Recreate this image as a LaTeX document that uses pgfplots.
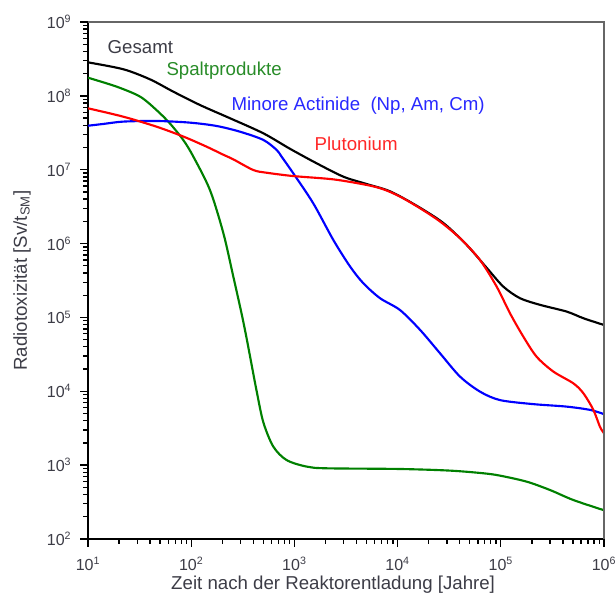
\documentclass[border=0pt]{standalone}
\usepackage{fontspec}
\setmainfont{Liberation Sans}
\usepackage{pgfplots}
\pgfplotsset{compat=1.18}
\usetikzlibrary{calc}
\definecolor{cgreen}{RGB}{0,128,0}
\definecolor{cblue}{RGB}{0,0,255}
\definecolor{cred}{RGB}{255,0,0}
\definecolor{tgreen}{RGB}{40,140,40}
\definecolor{tblue}{RGB}{40,40,255}
\definecolor{tred}{RGB}{255,40,40}
\definecolor{tgray}{RGB}{60,60,70}
\begin{document}
\begin{tikzpicture}
\begin{axis}[
  scale only axis, width=387pt, height=387.75pt,
  xmode=log, ymode=log,
  xmin=10, xmax=1e6, ymin=1e2, ymax=1e9,
  clip mode=individual,
  axis line style={black, line width=1.1pt},
  xtick pos=bottom, ytick pos=left,
  xtick align=outside, ytick align=outside,
  major tick length=6pt,
  minor tick length=3.5pt,
  every tick/.style={black, line width=1pt},
  xtick={1e1,1e2,1e3,1e4,1e5,1e6},
  ytick={1e2,1e3,1e4,1e5,1e6,1e7,1e8,1e9},
  /pgf/number format/assume math mode=true,
  log number format basis/.code 2 args={#1\textsuperscript{\pgfmathprintnumber{#2}}},
  tick label style={font=\fontsize{12}{14}\selectfont, text=tgray},
  xticklabel style={yshift=-4pt},
  yticklabel style={xshift=-3pt},
]
\coordinate (bbsw) at (rel axis cs:0,0);
\coordinate (bbne) at (rel axis cs:1,1);
\coordinate (xl) at (rel axis cs:0.475,0);
\coordinate (yl) at (rel axis cs:0,0.5);

% Gesamt
\addplot[black, line width=1.6pt, smooth] coordinates {
(10,2.84e8) (22,2.29e8) (40,1.67e8) (67,1.14e8) (122,7.5e7) (238,4.97e7) (500,3.11e7) (906,1.92e7) (1644,1.22e7) (2979,8.05e6) (5012,6.4e6) (8433,5.1e6) (15310,3.25e6) (27730,1.9e6) (46670,9.6e5) (72950,4.7e5) (105900,2.61e5) (153500,1.82e5) (239900,1.48e5) (434500,1.2e5) (631000,9.75e4) (1e6,7.9e4)
};
% Spaltprodukte
\addplot[cgreen, line width=1.6pt, smooth] coordinates {
(10,1.76e8) (19,1.33e8) (32,9.75e7) (46,6.44e7) (62,4.25e7) (84,2.51e7) (105,1.5e7) (152,5.3e6) (205,1.38e6) (256,3.56e5) (308,1.12e5) (344,5.25e4) (385,2.29e4) (431,1.0e4) (500,3.8e3) (625,1.78e3) (841,1.17e3) (1315,955) (2056,906) (10540,887) (32210,843) (67760,776) (98170,721) (177800,598) (299200,461) (504700,337) (1e6,245)
};
% Minore Actinide
\addplot[cblue, line width=1.6pt, smooth] coordinates {
(10,3.94e7) (14,4.16e7) (22,4.48e7) (46,4.57e7) (97,4.34e7) (176,3.91e7) (297,3.27e7) (500,2.53e7) (673,1.85e7) (752,1.5e7) (977,8.9e6) (1524,3.5e6) (2382,1.12e6) (3459,4.9e5) (4656,2.9e5) (6761,1.82e5) (10540,1.26e5) (16480,6.8e4) (25760,3.27e4) (40270,1.58e4) (62810,9.9e3) (98170,7.6e3) (206500,6.7e3) (434500,6.2e3) (731100,5.6e3) (1e6,4.9e3)
};
% Plutonium
\addplot[cred, line width=1.6pt, smooth] coordinates {
(10,6.78e7) (22,5.22e7) (46,3.83e7) (84,2.81e7) (141,2.05e7) (200,1.62e7) (256,1.38e7) (400,9.9e6) (538,9.1e6) (977,8.2e6) (2382,7.4e6) (5012,6.22e6) (7278,5.43e6) (10540,4.33e6) (16480,3.01e6) (25760,1.99e6) (40270,1.18e6) (62810,6.0e5) (91200,2.61e5) (122700,1.14e5) (165200,5.5e4) (222300,2.94e4) (322800,1.85e4) (504700,1.28e4) (631000,9.4e3) (788900,5.6e3) (914000,3.3e3) (1e6,2.7e3)
};

\node[anchor=base west, font=\fontsize{14}{16}\selectfont, text=tgray] at (rel axis cs:0.029,0.940) {Gesamt};
\node[anchor=base west, font=\fontsize{14}{16}\selectfont, text=tgreen] at (rel axis cs:0.143,0.896) {Spaltprodukte};
\node[anchor=base west, font=\fontsize{14}{16}\selectfont, text=tblue] at (rel axis cs:0.269,0.828) {Minore Actinide\ \ (Np, Am, Cm)};
\node[anchor=base west, font=\fontsize{14}{16}\selectfont, text=tred] at (rel axis cs:0.430,0.752) {Plutonium};
\end{axis}
\draw[black!60, line width=1.2pt] (bbsw|-bbne) -- (bbne) -- (bbne|-bbsw);
% tick marks (axis decoration)
\foreach \d in {0,...,5} {
  \pgfmathsetmacro\f{\d/5}
  \draw[black, line width=0.9pt] ($(bbsw)!\f!(bbne|-bbsw)$) -- ++(0,-5pt);
}
\foreach \d in {0,...,4} {
  \foreach \m in {2,...,9} {
    \pgfmathsetmacro\f{(\d+log10(\m))/5}
    \draw[black, line width=0.8pt] ($(bbsw)!\f!(bbne|-bbsw)$) -- ++(0,-3pt);
  }
}
\foreach \d in {0,...,7} {
  \pgfmathsetmacro\f{\d/7}
  \draw[black, line width=0.9pt] ($(bbsw)!\f!(bbsw|-bbne)$) -- ++(-5pt,0);
}
\foreach \d in {0,...,6} {
  \foreach \m in {2,...,9} {
    \pgfmathsetmacro\f{(\d+log10(\m))/7}
    \draw[black, line width=0.8pt] ($(bbsw)!\f!(bbsw|-bbne)$) -- ++(-3pt,0);
  }
}
\node[anchor=base, font=\fontsize{14}{16}\selectfont, text=tgray] at ($(xl)+(0,-37.5pt)$) {Zeit nach der Reaktorentladung [Jahre]};
\node[rotate=90, anchor=center, font=\fontsize{14}{16}\selectfont, text=tgray] at ($(yl)+(-49.5pt,0)$) {Radiotoxizität [Sv/t\textsubscript{SM}]};
\pgfresetboundingbox
\path[use as bounding box] ($(bbsw)+(-66pt,-42pt)$) rectangle ($(bbne)+(9pt,16.5pt)$);
\end{tikzpicture}
\end{document}
